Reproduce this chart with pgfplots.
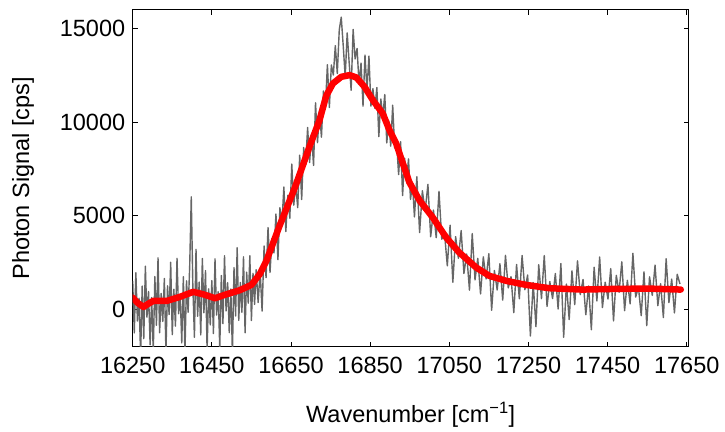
\documentclass[border=0pt]{standalone}
\usepackage{pgfplots}
\pgfplotsset{compat=1.18}
\usepackage{fontspec}
\setmainfont{Liberation Sans}

% measured photon signal (raw counts)
\pgfplotstableread{
x y
16250 1520
16254 -1260
16258 1950
16262 -630
16266 590
16270 -2500
16274 1240
16278 -1570
16282 2300
16286 -420
16290 950
16294 -1900
16298 630
16302 -2300
16306 1745
16310 -855
16314 2745
16318 -1255
16322 845
16326 -655
16330 1645
16334 -2300
16338 1250
16342 -280
16346 2510
16350 -1360
16354 1070
16358 -900
16362 2720
16366 -240
16370 760
16374 -1800
16378 1740
16382 -2400
16386 1520
16390 -160
16394 2290
16398 6000
16402 1230
16406 -1500
16410 3195
16414 -375
16418 1450
16422 -1370
16426 2710
16430 -190
16434 2060
16438 -2200
16442 1090
16446 -840
16450 1530
16454 -1300
16458 2690
16462 -310
16466 940
16470 -2100
16474 1800
16478 -770
16482 2860
16486 -90
16490 1420
16494 -1250
16498 1080
16502 -2400
16506 2230
16510 -360
16514 3290
16518 -590
16522 1430
16526 -160
16530 2800
16534 -1260
16538 1980
16542 320
16546 2860
16550 -600
16554 1920
16558 260
16562 2110
16567 360
16572 2060
16577 -100
16582 3380
16587 1690
16592 4360
16597 1970
16602 3780
16607 3010
16612 5090
16617 2650
16622 5420
16627 4560
16632 6530
16637 4150
16642 6090
16647 4860
16652 7750
16657 5560
16662 6670
16667 5430
16672 8230
16677 5860
16682 8640
16687 7710
16692 9710
16697 7840
16702 9330
16707 7680
16712 11030
16717 8900
16722 10570
16727 9190
16732 11660
16737 10820
16742 13060
16747 10780
16752 13050
16757 12510
16762 14080
16767 12590
16772 14930
16777 15600
16782 14070
16787 12420
16792 14760
16797 13180
16802 11700
16807 14950
16812 13370
16817 13930
16822 12030
16827 13150
16832 10850
16837 13580
16842 11710
16847 13520
16852 10850
16857 11785
16862 10740
16867 11840
16872 9220
16877 11230
16882 10290
16887 11470
16892 8880
16897 10060
16902 8710
16907 10900
16912 8610
16917 8860
16922 7190
16927 8950
16932 6070
16937 8070
16942 6900
16947 8030
16952 5870
16957 6720
16962 4930
16968 7080
16975 4095
16982 6330
16989 5240
16996 6670
17003 3870
17010 5300
17017 3820
17024 6300
17031 3740
17038 4060
17045 2320
17052 4490
17059 1440
17066 3880
17073 2720
17080 4200
17087 1910
17094 2950
17101 1020
17108 4040
17115 1570
17122 2720
17129 820
17136 2800
17143 1620
17150 2970
17157 -50
17164 2070
17171 1030
17178 2430
17185 490
17192 2880
17199 1140
17206 1740
17213 -180
17220 2390
17227 560
17234 2870
17241 1040
17248 1830
17255 -1430
17262 1430
17269 -930
17276 2380
17283 560
17290 2870
17297 150
17304 1480
17311 570
17318 1910
17325 15
17332 2440
17339 -1500
17346 1345
17353 -550
17360 2055
17367 250
17374 2585
17381 780
17388 1590
17395 -295
17402 1240
17409 -1095
17416 2240
17423 445
17430 2790
17437 90
17444 1445
17451 545
17458 2168
17465 -622
17472 1810
17479 910
17486 2532
17493 -76
17500 1545
17507 287
17514 2988
17521 650
17528 1190
17535 -338
17542 2003
17549 -876
17556 1734
17563 740
17570 2357
17577 193
17584 1360
17591 -445
17598 2700
17605 355
17612 1610
17619 -195
17626 1868
17633 1350
}\rawdata

% smoothed signal
\pgfplotstableread{
x y
16250 620
16262 350
16277 120
16290 300
16302 445
16336 445
16369 660
16403 930
16428 800
16458 590
16487 800
16521 1020
16550 1300
16571 1876
16588 2589
16605 3550
16621 4450
16638 5350
16659 6450
16676 7450
16697 8700
16722 10093
16739 11400
16756 12060
16777 12414
16798 12505
16815 12382
16836 11878
16857 11165
16882 10452
16899 9557
16916 8844
16933 7772
16949 6786
16975 5805
17008 4910
17042 3838
17075 3034
17118 2230
17151 1785
17194 1517
17244 1302
17302 1125
17386 1051
17471 1088
17555 1104
17635 1051
}\smoothdata

\begin{document}
\begin{tikzpicture}
\begin{axis}[
  width=556pt, height=337pt, scale only axis,
  xmin=16250, xmax=17655,
  ymin=-2000, ymax=16000,
  xtick={16250,16450,16650,16850,17050,17250,17450,17650},
  ytick={0,5000,10000,15000},
  scaled ticks=false,
  /pgf/number format/1000 sep={},
  /pgf/number format/assume math mode=true,
  tick align=inside,
  major tick length=5pt,
  tick style={black, line width=0.9pt},
  axis line style={black, line width=1.2pt},
  ticklabel style={font=\fontsize{23.5}{27}\selectfont},
  xticklabel style={yshift=-7pt},
  yticklabel style={xshift=-4pt},
  label style={font=\fontsize{23.5}{27}\selectfont},
  xlabel={Wavenumber [cm\textsuperscript{\char"2212 1}]},
  ylabel={Photon Signal [cps]},
  xlabel style={at={(axis description cs:0.5,-0.155)}, anchor=north},
  ylabel style={at={(axis description cs:-0.197,0.5)}, anchor=center},
]
\addplot[color=black!60, line width=1.4pt, line join=round] table[x=x,y=y]{\rawdata};
\addplot[color=red, line width=6.5pt, line join=round, line cap=round] table[x=x,y=y]{\smoothdata};
\end{axis}
\path (current axis.south west) ++(-132.7pt,-78.3pt) coordinate (bbl);
\path (bbl) rectangle ++(725pt,425pt);
\end{tikzpicture}
\end{document}
